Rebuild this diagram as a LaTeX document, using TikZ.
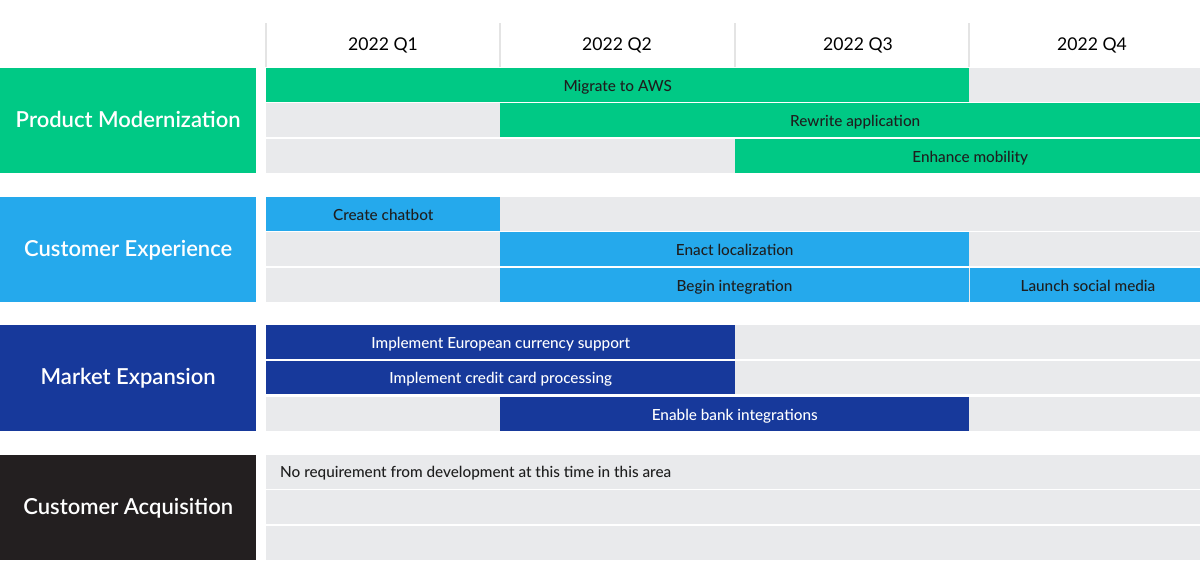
\documentclass[tikz,border=0pt]{standalone}
\usepackage{fontspec}
\setmainfont{Lato}
\IfFontExistsTF{Lato Semibold}{\newfontfamily\catfont{Lato Semibold}}{\newcommand\catfont{\bfseries}}
\IfFontExistsTF{Lato Medium}{\newfontfamily\barfont{Lato Medium}}{\newcommand\barfont{}}
\definecolor{pmgreen}{HTML}{00C985}
\definecolor{ceblue}{HTML}{25A9EC}
\definecolor{medark}{HTML}{17399B}
\definecolor{caback}{HTML}{231F20}
\definecolor{rowgray}{HTML}{E9EAEC}
\definecolor{txtdark}{HTML}{1E1E1E}
\definecolor{gridline}{HTML}{E4E4E4}
\newcommand\gbar[8]{%
  \node[barnode, fill=#6, text=#7, minimum width={(#3-#2)*1pt},
        minimum height={(#5-#4)*1pt}, anchor=north west] (#1) at (#2,#4) {#8};}
\begin{document}
\begin{tikzpicture}[x=1pt,y=-1pt,
  catbox/.style={rectangle, inner sep=0pt, text=white, anchor=north west,
     minimum width=256pt, text height=13.4pt, text depth=0pt,
     font=\fontsize{22}{26}\selectfont\catfont},
  barnode/.style={rectangle, inner sep=0pt, draw=none,
     text height=12.6pt, text depth=0pt,
     font=\fontsize{15.3}{18}\selectfont\barfont},
  qlabel/.style={font=\fontsize{17.6}{20}\selectfont, text=black, inner sep=0pt,
     text height=12.6pt, text depth=0pt},
  grid/.style={draw=gridline, line width=1.2pt},
  rowbg/.style={fill=rowgray}]
\useasboundingbox (0,0) rectangle (1200,565);
\clip (0,0) rectangle (1200,565);
% header
\foreach \x in {266,500,735,969} \draw[grid] (\x,23) -- (\x,67);
\node[qlabel] (q1) at (383,44) {2022 Q1};
\node[qlabel] (q2) at (617,44) {2022 Q2};
\node[qlabel] (q3) at (858,44) {2022 Q3};
\node[qlabel] (q4) at (1092,44) {2022 Q4};
% gray rows
\foreach \t/\b in {68/101.5, 103/137, 139/173,
                   197/230.5, 232/266, 268/301.5,
                   325/358.5, 360.5/394, 397/431,
                   455/488.5, 490/524, 526/560}
  \fill[rowbg] (266,\t) rectangle (1210,\b);
% categories
\node[catbox, fill=pmgreen, minimum height=105pt] (pm) at (0,68) {Product Modernization};
\node[catbox, fill=ceblue, minimum height=104.5pt] (ce) at (0,197) {Customer Experience};
\node[catbox, fill=medark, minimum height=106pt] (me) at (0,325) {Market Expansion};
\node[catbox, fill=caback, minimum height=105pt] (ca) at (0,455) {Customer Acquisition};
% product modernization bars
\gbar{aws}{266}{969}{68}{101.5}{pmgreen}{txtdark}{Migrate to AWS}
\gbar{rewrite}{500}{1210}{103}{137}{pmgreen}{txtdark}{Rewrite application}
\gbar{mobility}{735}{1205}{139}{173}{pmgreen}{txtdark}{Enhance mobility}
% customer experience bars
\gbar{chatbot}{266}{500}{197}{230.5}{ceblue}{txtdark}{Create chatbot}
\gbar{local}{500}{969}{232}{266}{ceblue}{txtdark}{Enact localization}
\gbar{integr}{500}{968.5}{268}{301.5}{ceblue}{txtdark}{Begin integration}
\gbar{social}{969.5}{1206}{268}{301.5}{ceblue}{txtdark}{Launch social media}
% market expansion bars
\gbar{euro}{266}{735}{325}{358.5}{medark}{white}{Implement European currency support}
\gbar{credit}{266}{735}{360.5}{394}{medark}{white}{Implement credit card processing}
\gbar{bank}{500}{969}{397}{431}{medark}{white}{Enable bank integrations}
% customer acquisition
\node[barnode, text=txtdark, anchor=west] (none) at (280,471)
  {No requirement from development at this time in this area};
\end{tikzpicture}
\end{document}
